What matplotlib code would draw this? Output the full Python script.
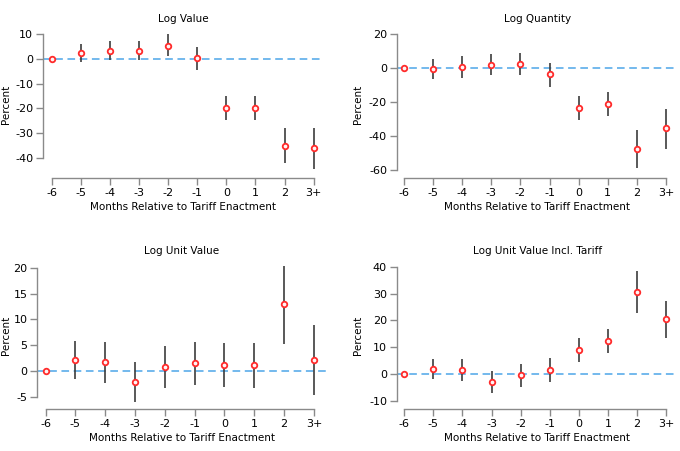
import numpy as np
import matplotlib
matplotlib.use("Agg")
import matplotlib.pyplot as plt

plt.rcParams['font.family'] = ['DejaVu Sans']
plt.rcParams['axes.unicode_minus'] = False

months = [-6, -5, -4, -3, -2, -1, 0, 1, 2, 3]
month_labels = ['-6', '-5', '-4', '-3', '-2', '-1', '0', '1', '2', '3+']

# point estimates and 95% CI bounds (percent)
value_est = [0, 2.4, 3.3, 3.3, 5.3, 0.3, -19.7, -19.8, -35.0, -35.8]
value_hi = [0, 6.1, 7.3, 7.3, 9.8, 4.9, -15.0, -15.0, -28.0, -27.7]
value_lo = [0, -1.3, -0.5, -0.5, 1.1, -4.5, -24.5, -24.8, -41.9, -44.2]

qty_est = [0, -0.4, 0.8, 2.2, 2.7, -3.5, -23.1, -21.0, -47.5, -35.3]
qty_hi = [0, 5.5, 7.3, 8.4, 9.2, 3.1, -16.3, -13.9, -36.3, -23.9]
qty_lo = [0, -6.3, -5.5, -3.7, -3.7, -10.8, -30.4, -28.0, -58.4, -47.3]

uv_est = [0, 2.2, 1.75, -2.1, 0.85, 1.5, 1.25, 1.1, 12.9, 2.15]
uv_hi = [0, 5.8, 5.6, 1.75, 4.85, 5.6, 5.45, 5.45, 20.4, 8.9]
uv_lo = [0, -1.55, -2.3, -5.95, -3.3, -2.7, -3.1, -3.3, 5.3, -4.65]

uvt_est = [0, 2.1, 1.7, -2.7, -0.4, 1.6, 9.15, 12.5, 30.7, 20.5]
uvt_hi = [0, 5.7, 5.7, 1.35, 4.0, 6.1, 13.5, 16.95, 38.4, 27.2]
uvt_lo = [0, -1.6, -2.35, -6.8, -4.7, -2.7, 4.7, 8.0, 22.8, 13.6]

W, H = 680, 451
fig = plt.figure(figsize=(W / 100, H / 100), dpi=100)

gray = '#8a8a8a'
panels = [
    # title, est, lo, hi, yticks, (left, right, top, bottom px), xlim, ylim, ylabel right edge px
    ('Log Value', value_est, value_lo, value_hi, [10, 0, -10, -20, -30, -40],
     (43, 323, 30, 178), (-6.3, 3.32), (-48, 11.6), 11),
    ('Log Quantity', qty_est, qty_lo, qty_hi, [20, 0, -20, -40, -60],
     (396.7, 678, 30, 178.3), (-6.25, 3.41), (-64.7, 22.5), 363),
    ('Log Unit Value', uv_est, uv_lo, uv_hi, [20, 15, 10, 5, 0, -5],
     (37.3, 326.7, 262, 409), (-6.28, 3.43), (-7.36, 21.1), 11),
    ('Log Unit Value Incl. Tariff', uvt_est, uvt_lo, uvt_hi, [40, 30, 20, 10, 0, -10],
     (396.7, 678, 262, 409), (-6.26, 3.41), (-12.9, 41.7), 363),
]

for title, est, lo, hi, yticks, box, xl, yl, ylab_x in panels:
    l, r, t, b = box
    ax = fig.add_axes([l / W, 1 - b / H, (r - l) / W, (b - t) / H])
    ax.set_xlim(*xl)
    ax.set_ylim(*yl)
    ax.axhline(0, color='#4da6e8', lw=1.1, ls=(0, (5, 3)), zorder=1)
    ax.vlines(months, lo, hi, color='#3c3c3c', lw=1.2, zorder=2)
    ax.plot(months, est, 'o', ms=4, mfc='#fff4f4', mec='#ff2a2a', mew=1.3,
            ls='none', zorder=3)
    ax.set_xticks(months)
    ax.set_xticklabels(month_labels)
    ax.set_yticks(yticks)
    for s in ['top', 'right']:
        ax.spines[s].set_visible(False)
    for s in ['left', 'bottom']:
        ax.spines[s].set_color(gray)
        ax.spines[s].set_linewidth(1.0)
    ax.spines['left'].set_bounds(min(yticks), max(yticks))
    ax.spines['bottom'].set_bounds(months[0], months[-1])
    ax.tick_params(direction='out', length=5, width=1.0, color=gray,
                   labelsize=8, pad=2, labelcolor='black')
    ax.set_title(title, fontsize=7.5, pad=6)
    ax.set_xlabel('Months Relative to Tariff Enactment', fontsize=7.5, labelpad=3)
    ax.set_ylabel('Percent', fontsize=7.5)
    ax.yaxis.set_label_coords((ylab_x - l) / (r - l), 0.5)

fig.savefig('out.png', dpi=100)
